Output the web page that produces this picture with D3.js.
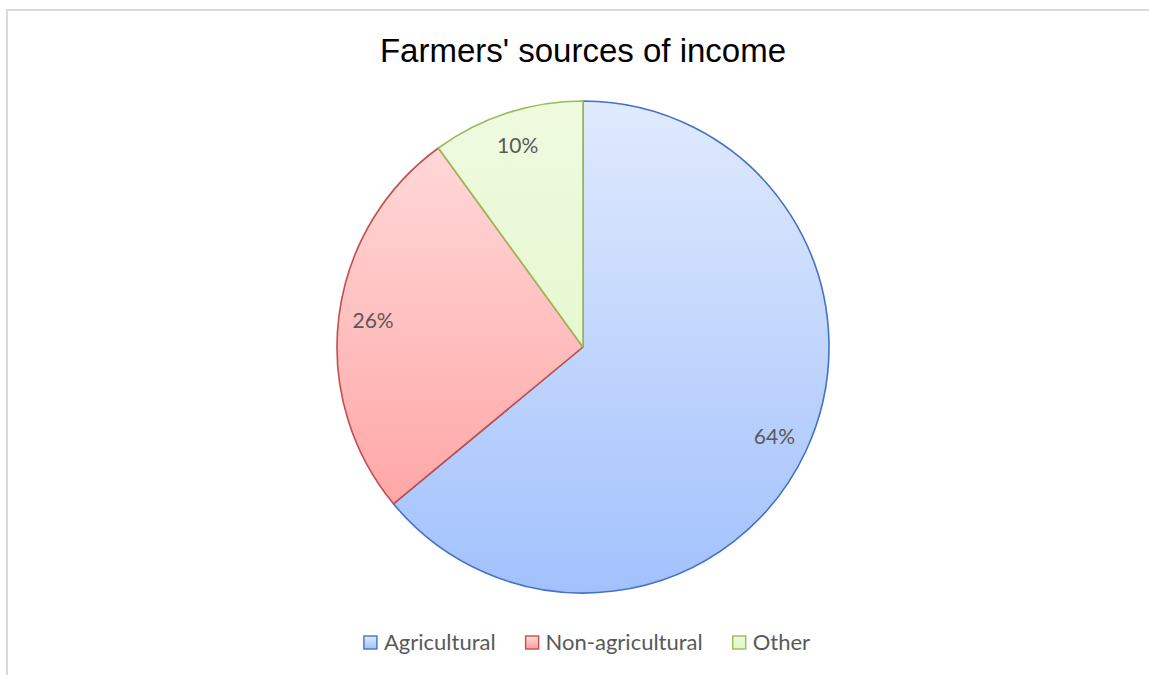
<!DOCTYPE html>
<html>
<head>
<meta charset="utf-8">
<script src="https://cdn.jsdelivr.net/npm/d3@7"></script>
<style>
  html, body { margin: 0; padding: 0; background: #fff; }
  svg { display: block; }
</style>
</head>
<body>
<svg id="chart" width="1149" height="675"></svg>
<script>
// Farmers' income breakdown (percent)
const categories = ["Agricultural", "Non-agricultural", "Other"];
const shares = [64, 26, 10];
const strokeColors = ["#4472c4", "#c0504d", "#9bbb59"];
const gradTop = ["#e0eafd", "#ffdede", "#effadf"];
const gradBottom = ["#a2c1fc", "#ff9b9b", "#dff6c2"];

const W = 1149, H = 675;
const cx = 583, cy = 347, R = 246;
const FONT = "Lato, 'Open Sans', sans-serif";

const svg = d3.select("#chart");

// chart area frame (continues past the right and bottom edges)
svg.append("rect")
  .attr("x", 7).attr("y", 10)
  .attr("width", W + 20).attr("height", H + 20)
  .attr("fill", "#fff")
  .attr("stroke", "#d9d9d9")
  .attr("stroke-width", 2);

// vertical gradients spanning the pie (pie group coordinates)
const defs = svg.append("defs");
categories.forEach((c, i) => {
  const g = defs.append("linearGradient")
    .attr("id", "grad" + i)
    .attr("gradientUnits", "userSpaceOnUse")
    .attr("x1", 0).attr("x2", 0)
    .attr("y1", -R).attr("y2", R);
  g.append("stop").attr("offset", "0%").attr("stop-color", gradTop[i]);
  g.append("stop").attr("offset", "100%").attr("stop-color", gradBottom[i]);

  const lg = defs.append("linearGradient")
    .attr("id", "lg" + i)
    .attr("x1", 0).attr("x2", 0).attr("y1", 0).attr("y2", 1);
  lg.append("stop").attr("offset", "0%").attr("stop-color", gradTop[i]);
  lg.append("stop").attr("offset", "100%").attr("stop-color", gradBottom[i]);
});

svg.append("text")
  .attr("x", cx).attr("y", 62)
  .attr("text-anchor", "middle")
  .attr("font-family", "'Liberation Sans', Arial, sans-serif")
  .attr("font-size", 33)
  .attr("fill", "#000")
  .text("Farmers' sources of income");

const pie = d3.pie().sort(null).value(d => d);
const arcs = pie(shares);
const arc = d3.arc().innerRadius(0).outerRadius(R);
const labelArc = d3.arc().innerRadius(R * 0.86).outerRadius(R * 0.86);

const g = svg.append("g").attr("transform", `translate(${cx},${cy})`);

g.selectAll("path.slice")
  .data(arcs)
  .join("path")
  .attr("class", "slice")
  .attr("d", arc)
  .attr("fill", (d, i) => `url(#grad${i})`)
  .attr("stroke", (d, i) => strokeColors[i])
  .attr("stroke-width", 1.6)
  .attr("stroke-linejoin", "round");

const total = d3.sum(shares);
g.selectAll("text.lbl")
  .data(arcs)
  .join("text")
  .attr("class", "lbl")
  .attr("transform", d => `translate(${labelArc.centroid(d)})`)
  .attr("text-anchor", "middle")
  .attr("dy", "0.35em")
  .attr("font-family", FONT)
  .attr("font-size", 21)
  .attr("fill", "#595959")
  .text(d => Math.round(d.value / total * 100) + "%");

// legend, centered under the pie
const legend = svg.append("g");
const items = legend.selectAll("g.item")
  .data(categories)
  .join("g")
  .attr("class", "item");
items.append("rect")
  .attr("width", 13).attr("height", 13)
  .attr("y", -14)
  .attr("fill", (d, i) => `url(#lg${i})`)
  .attr("stroke", (d, i) => strokeColors[i])
  .attr("stroke-width", 1.4);
items.append("text")
  .attr("x", 20)
  .attr("font-family", FONT)
  .attr("font-size", 22)
  .attr("fill", "#595959")
  .text(d => d);

let x = 0;
const gap = 30;
items.each(function () {
  const t = d3.select(this).select("text").node().getComputedTextLength();
  d3.select(this).attr("transform", `translate(${x},0)`);
  x += 20 + t + gap;
});
const legendW = x - gap;
legend.attr("transform", `translate(${cx - legendW / 2 + 4},650)`);
</script>
</body>
</html>
